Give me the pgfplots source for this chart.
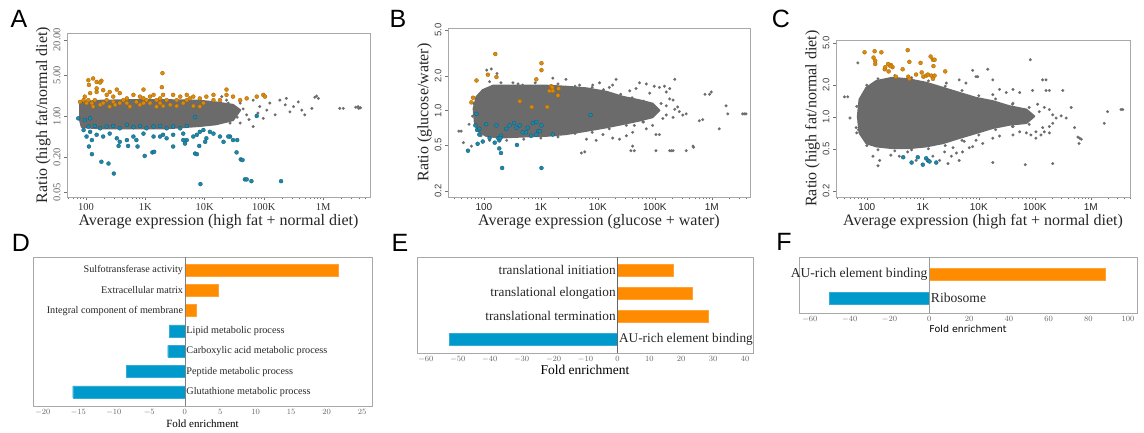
\documentclass[border=0pt]{standalone}
\usepackage{pgfplots}
\pgfplotsset{compat=1.18}
\usepackage{fontspec}
\setmainfont{Liberation Serif}
\newfontfamily\sansf{Liberation Sans}
\newfontfamily\dejavu{DejaVu Sans}
\definecolor{cloud}{HTML}{6B6B6B}
\definecolor{orpt}{HTML}{DB8A0B}
\definecolor{orpte}{HTML}{A86400}
\definecolor{blpt}{HTML}{1E87A8}
\definecolor{blpte}{HTML}{0F5C76}
\definecolor{obar}{HTML}{FF8C00}
\definecolor{bbar}{HTML}{0099CC}
\definecolor{frame}{HTML}{A8A8A8}
\pgfplotsset{
  ma/.style={scale only axis, anchor=south west, axis line style={frame},
    tick align=outside, tick pos=left, major tick length=3pt, tick style={black!55}},
  sc/.style={ma, xtick={2,3,4,5,6}, xticklabels={100,1K,10K,100K,1M},
    minor xtick={1.477,1.602,1.699,1.778,1.845,1.903,1.954,2.301,2.477,2.602,2.699,2.778,2.845,2.903,2.954,3.301,3.477,3.602,3.699,3.778,3.845,3.903,3.954,4.301,4.477,4.602,4.699,4.778,4.845,4.903,4.954,5.301,5.477,5.602,5.699,5.778,5.845,5.903,5.954,6.301,6.477,6.602,6.699},
    minor tick length=2pt,
    label style={font=\fontsize{16}{17}\selectfont, text=black!85},
    xlabel style={yshift=3pt}, ylabel style={yshift=-4pt}},
  gp/.style={only marks, mark=*, mark size=1.4pt, mark options={fill=cloud, draw=cloud, line width=0.2pt}},
  op/.style={only marks, mark=*, mark size=2pt, mark options={fill=orpt, draw=orpte, line width=0.3pt}},
  bp/.style={only marks, mark=*, mark size=2pt, mark options={fill=blpt, draw=blpte, line width=0.3pt}},
  cl/.style={fill=cloud, draw=cloud, line width=2pt, line join=round},
  br/.style={ma, ytick=\empty, major tick length=0pt, xbar, bar width=12pt, bar shift=0pt,
    clip=false, xticklabel style={text=black!60}},
}
\begin{document}
\begin{tikzpicture}[x=1pt,y=1pt]
\useasboundingbox (0,0) rectangle (1144,432);
\sansf
\node[font=\sansf\fontsize{25}{25}\selectfont] at (19,413) {A};
\node[font=\sansf\fontsize{25}{25}\selectfont] at (398,413) {B};
\node[font=\sansf\fontsize{25}{25}\selectfont] at (781,413) {C};
\node[font=\sansf\fontsize{25}{25}\selectfont] at (21,189) {D};
\node[font=\sansf\fontsize{25}{25}\selectfont] at (400,189) {E};
\node[font=\sansf\fontsize{25}{25}\selectfont] at (784,190) {F};

% ---------------- A ----------------
\begin{axis}[sc, at={(67pt,235pt)}, width=303pt, height=164pt,
  xmin=1.68, xmax=6.79, ymin=-1.38, ymax=1.414,
  ytick={-1.301,-0.699,0,0.699,1.301}, yticklabels={0.05,0.20,1.00,5.00,20.00},
  yticklabel style={rotate=90, anchor=south, font=\rmfamily\fontsize{10.5}{11}\selectfont, text=black!60},
  xticklabel style={font=\rmfamily\fontsize{10.5}{11}\selectfont, text=black!80},
  xlabel={\rmfamily Average expression (high fat + normal diet)},
  ylabel={\rmfamily Ratio (high fat/normal diet)}]
\addplot[cl] coordinates {(1.90,0.19)(1.93,0.24)(2.24,0.26)(2.80,0.27)(3.36,0.27)(3.92,0.26)(4.20,0.23)(4.48,0.19)(4.60,0.10)(4.48,-0.07)(4.20,-0.14)(3.92,-0.17)(3.36,-0.21)(2.80,-0.21)(2.24,-0.21)(1.93,-0.19)(1.90,-0.07)} -- cycle;
\addplot[gp] table {
x y
4.48 0.10
4.60 0.22
4.71 0.02
4.82 0.27
4.93 0.16
4.99 -0.04
5.05 0.10
5.10 0.22
5.19 0.02
5.27 0.27
5.36 0.19
5.38 0.30
5.44 0.07
5.50 0.16
5.58 0.24
5.64 0.10
5.69 0.02
5.81 0.13
5.86 0.32
5.89 0.34
5.92 0.30
6.28 0.13
6.34 0.13
6.55 0.15
6.59 0.16
6.63 0.14
6.60 0.13
4.15 0.16
4.26 0.02
4.37 0.27
4.20 -0.07
4.43 -0.12
4.60 -0.12
4.82 -0.18
4.48 0.33
4.29 0.33
4.65 0.12
4.75 -0.06
4.55 -0.02
4.40 0.22
4.90 0.05
};
\addplot[op] table {
x y
3.29 0.73
2.04 0.61
2.12 0.64
2.26 0.60
2.24 0.57
2.05 0.53
3.28 0.49
4.37 0.45
2.97 0.45
1.96 0.27
1.98 0.33
1.90 0.24
2.07 0.39
2.18 0.41
2.35 0.36
2.46 0.33
2.57 0.39
2.69 0.30
2.80 0.36
2.91 0.33
3.02 0.27
3.14 0.36
3.25 0.30
3.36 0.27
3.47 0.36
3.59 0.33
3.70 0.27
3.81 0.33
3.92 0.30
4.03 0.33
4.15 0.36
4.26 0.27
4.48 0.33
4.71 0.30
4.88 0.33
4.99 0.36
5.02 0.33
2.57 0.22
2.74 0.16
2.91 0.19
3.08 0.22
3.19 0.16
3.42 0.19
3.64 0.22
3.81 0.17
2.24 0.19
2.40 0.16
3.92 0.16
2.12 0.16
2.01 0.22
2.18 0.47
2.29 0.44
2.40 0.41
2.52 0.45
2.18 0.58
2.15 0.27
2.35 0.27
2.46 0.24
2.63 0.27
2.85 0.24
2.97 0.30
3.08 0.33
3.19 0.27
3.30 0.36
3.53 0.27
3.70 0.36
3.75 0.30
3.98 0.22
4.15 0.27
4.37 0.36
4.60 0.27
2.04 0.27
2.10 0.22
2.29 0.22
2.49 0.19
2.69 0.22
2.97 0.22
3.25 0.22
3.53 0.17
3.30 0.17
};
\addplot[bp] table {
x y
1.87 -0.04
1.98 -0.07
2.07 -0.04
2.04 -0.18
2.15 -0.17
2.24 -0.21
2.35 -0.18
2.46 -0.17
2.57 -0.21
2.69 -0.15
2.80 -0.19
2.91 -0.17
3.02 -0.21
3.14 -0.18
3.25 -0.17
3.36 -0.21
3.47 -0.18
3.59 -0.21
3.70 -0.17
3.84 -0.02
4.88 0.00
1.96 -0.24
2.07 -0.27
2.18 -0.32
2.29 -0.35
2.40 -0.30
2.52 -0.38
2.69 -0.41
2.80 -0.35
2.97 -0.30
3.14 -0.35
3.30 -0.32
3.36 -0.38
3.47 -0.32
3.64 -0.30
3.70 -0.41
3.81 -0.35
3.92 -0.27
4.03 -0.38
4.15 -0.30
4.26 -0.35
4.43 -0.35
4.48 -0.41
2.01 -0.35
2.10 -0.41
2.05 -0.52
2.10 -0.65
2.26 -0.78
2.38 -0.81
2.47 -0.98
2.55 -0.51
2.71 -0.51
2.87 -0.52
2.99 -0.68
3.12 -0.62
3.15 -0.61
3.84 -0.64
3.87 -0.65
3.91 -0.51
4.01 -0.44
4.09 -0.27
4.55 -0.41
4.54 -0.62
4.61 -0.74
4.64 -0.75
3.93 -1.16
4.68 -1.08
4.71 -1.08
4.79 -1.11
5.29 -1.11
3.47 -0.52
3.67 -0.47
3.64 -0.41
2.85 -0.41
3.25 -0.35
2.57 -0.44
3.87 -0.32
3.98 -0.24
4.32 -0.44
4.40 -0.35
};
\end{axis}

% ---------------- B ----------------
\begin{axis}[sc, at={(448pt,235pt)}, width=302pt, height=169pt,
  xmin=1.37, xmax=6.67, ymin=-0.752, ymax=0.716,
  ytick={-0.699,-0.301,0,0.301,0.699}, yticklabels={0.2,0.5,1.0,2.0,5.0},
  yticklabel style={rotate=90, anchor=south, font=\sansf\fontsize{9.5}{10}\selectfont, text=black!75},
  xticklabel style={font=\sansf\fontsize{10}{11}\selectfont, text=black!85},
  xlabel={\rmfamily Average expression (glucose + water)},
  ylabel={\rmfamily Ratio (glucose/water)}]
\addplot[cl] coordinates {(1.82,0.015)(1.87,0.118)(1.98,0.177)(2.16,0.215)(2.51,0.215)(3.09,0.215)(3.44,0.206)(3.80,0.192)(4.15,0.162)(4.44,0.118)(4.73,0.088)(4.96,0.059)(5.08,0)(4.96,-0.059)(4.73,-0.088)(4.44,-0.118)(4.15,-0.147)(3.80,-0.177)(3.44,-0.206)(3.09,-0.221)(2.68,-0.227)(2.27,-0.236)(2.04,-0.221)(1.89,-0.177)(1.84,-0.103)} -- cycle;
\addplot[gp] table {
x y
1.56 -0.18
1.60 -0.18
1.64 -0.28
1.74 -0.12
1.78 -0.31
2.05 0.35
2.13 0.36
2.23 0.32
2.10 0.25
2.51 0.24
2.68 0.22
3.21 0.28
3.44 0.27
3.68 0.22
3.91 0.22
4.03 0.24
4.20 0.20
4.26 0.22
4.32 0.27
4.56 0.17
4.67 0.19
4.73 0.24
4.85 0.23
4.91 0.15
4.99 0.21
5.08 0.20
5.17 0.21
5.20 0.16
5.26 0.10
5.32 0.09
5.35 0.01
5.43 -0.01
5.49 -0.04
5.55 -0.03
5.32 -0.06
5.14 -0.07
4.96 -0.13
4.85 -0.16
5.02 -0.21
5.08 -0.21
4.61 -0.19
4.50 -0.22
4.38 -0.25
4.26 -0.24
4.09 -0.21
3.97 -0.26
3.80 -0.25
3.71 -0.37
3.77 -0.36
4.58 -0.35
4.64 -0.35
4.61 -0.31
5.02 -0.35
5.26 -0.35
5.29 -0.35
5.32 -0.35
5.55 -0.35
5.35 0.27
5.26 0.19
5.20 0.04
5.40 0.03
5.84 -0.08
5.88 0.14
5.96 0.14
5.99 0.16
6.25 0.04
6.28 -0.03
6.54 -0.03
6.57 -0.03
6.60 -0.03
6.13 -0.16
5.67 -0.31
5.68 -0.32
5.78 -0.09
4.64 -0.13
4.79 -0.10
4.91 -0.03
5.02 0.01
5.11 0.06
5.20 -0.04
2.30 0.24
2.60 0.23
2.90 0.24
3.30 0.23
3.60 0.21
3.90 0.20
4.10 0.18
4.40 0.14
4.60 0.11
4.80 0.08
2.40 -0.26
2.70 -0.25
3.00 -0.24
3.30 -0.23
3.60 -0.20
3.90 -0.19
4.20 -0.16
4.50 -0.13
4.80 -0.10
2.10 -0.26
1.95 -0.22
1.80 -0.05
1.82 0.06
};
\addplot[op] table {
x y
2.20 0.49
1.87 0.26
2.07 0.31
2.22 0.29
1.81 0.11
1.78 0.07
2.92 0.27
3.01 0.41
3.01 0.35
3.18 0.21
3.15 0.17
3.21 0.17
3.31 0.19
3.30 0.13
2.63 0.08
2.84 0.03
3.11 0.03
3.20 0.20
};
\addplot[bp] table {
x y
1.87 -0.03
1.85 -0.13
1.88 -0.17
1.92 -0.21
1.89 -0.29
1.72 -0.35
2.04 -0.12
2.22 -0.13
1.98 -0.27
2.10 -0.24
2.27 -0.26
2.27 -0.33
2.30 -0.37
2.25 -0.24
2.30 -0.22
2.39 -0.16
2.45 -0.13
2.53 -0.11
2.57 -0.15
2.63 -0.13
2.58 -0.30
2.68 -0.19
2.77 -0.15
2.86 -0.11
2.92 -0.10
3.01 -0.13
2.95 -0.18
2.83 -0.22
2.92 -0.21
2.98 -0.18
2.32 -0.50
3.01 -0.50
3.21 -0.21
3.87 -0.04
1.92 -0.16
2.19 -0.28
2.29 -0.24
2.74 -0.19
};
\end{axis}

% ---------------- C ----------------
\begin{axis}[sc, at={(836pt,235pt)}, width=294pt, height=157pt,
  xmin=1.45, xmax=6.70, ymin=-0.755, ymax=0.726,
  ytick={-0.699,-0.301,0,0.301,0.699}, yticklabels={0.2,0.5,1.0,2.0,5.0},
  yticklabel style={rotate=90, anchor=south, font=\sansf\fontsize{9.5}{10}\selectfont, text=black!75},
  xticklabel style={font=\sansf\fontsize{10}{11}\selectfont, text=black!85},
  xlabel={\rmfamily Average expression (high fat + normal diet)},
  ylabel={\rmfamily Ratio (high fat/normal diet)}]
\addplot[cl] coordinates {(1.84,0.006)(1.87,0.165)(1.99,0.275)(2.17,0.339)(2.46,0.370)(2.76,0.354)(3.06,0.323)(3.36,0.275)(3.65,0.228)(3.95,0.180)(4.25,0.149)(4.55,0.101)(4.85,0.070)(4.99,0.006)(4.85,-0.057)(4.55,-0.073)(4.25,-0.104)(3.95,-0.152)(3.65,-0.199)(3.36,-0.247)(3.06,-0.278)(2.76,-0.294)(2.46,-0.294)(2.17,-0.278)(1.99,-0.247)(1.87,-0.152)} -- cycle;
\addplot[gp] table {
x y
1.60 0.19
1.66 0.19
1.70 -0.01
1.81 -0.10
1.82 -0.15
1.84 0.51
2.05 -0.20
2.11 -0.37
2.20 -0.46
2.23 -0.41
2.43 -0.36
2.58 -0.37
2.73 -0.33
2.88 -0.41
3.18 -0.37
3.30 -0.41
3.39 -0.33
3.51 -0.37
3.60 -0.34
3.71 -0.33
3.83 -0.29
3.89 -0.28
3.65 -0.41
3.45 -0.44
3.54 -0.29
3.74 -0.23
3.95 -0.22
4.07 -0.25
4.25 -0.20
4.37 -0.18
4.61 -0.17
4.85 -0.15
4.93 -0.17
4.25 -0.43
4.83 -0.45
5.32 -0.44
5.02 -0.20
5.11 -0.17
5.17 -0.14
5.26 -0.09
5.32 -0.06
5.38 -0.01
5.47 0.01
5.56 -0.01
5.65 0.09
5.71 -0.10
5.77 -0.19
5.80 -0.20
5.83 -0.21
5.79 -0.25
6.24 -0.06
6.30 0.05
6.54 0.07
6.57 0.07
4.92 0.54
4.16 0.45
3.89 0.44
3.95 0.38
3.98 0.38
3.65 0.35
3.77 0.32
4.25 0.35
4.37 0.26
4.49 0.23
4.61 0.26
4.73 0.23
4.96 0.25
5.14 0.35
5.20 0.35
5.20 0.25
5.26 0.25
5.50 0.25
5.05 0.12
5.17 0.09
5.26 0.07
5.32 0.02
5.08 0.05
4.61 0.13
4.25 0.21
5.14 -0.10
5.26 -0.15
5.02 -0.14
4.73 -0.14
4.61 -0.09
2.00 0.30
2.20 0.36
2.50 0.39
2.80 0.37
3.10 0.34
3.40 0.29
3.70 0.25
4.00 0.20
4.30 0.17
4.60 0.12
4.90 0.09
2.00 -0.27
2.20 -0.31
2.50 -0.32
2.80 -0.31
3.10 -0.30
3.40 -0.27
3.70 -0.22
4.00 -0.17
4.30 -0.12
4.60 -0.09
4.90 -0.07
1.85 -0.12
1.82 0.10
3.42 0.32
};
\addplot[op] table {
x y
1.96 0.61
2.14 0.62
2.26 0.61
2.12 0.56
2.15 0.53
2.15 0.50
2.32 0.45
2.39 0.43
2.43 0.49
2.46 0.47
2.42 0.48
2.38 0.50
2.33 0.47
2.52 0.38
2.64 0.45
2.73 0.63
2.76 0.52
2.74 0.38
2.76 0.36
2.88 0.40
2.96 0.51
2.98 0.42
3.01 0.38
3.06 0.39
3.09 0.40
3.14 0.57
3.18 0.54
3.21 0.54
3.19 0.48
3.15 0.39
3.21 0.39
3.18 0.36
3.40 0.43
};
\addplot[bp] table {
x y
2.65 -0.38
2.80 -0.43
2.91 -0.38
3.00 -0.45
3.06 -0.39
3.09 -0.41
3.12 -0.42
3.24 -0.43
};
\end{axis}

% ---------------- D ----------------
\begin{axis}[br, at={(33pt,26pt)}, width=339pt, height=149pt,
  xmin=-21.4, xmax=26.4, ymin=-0.69, ymax=6.64,
  xtick={-20,-15,...,25},
  xticklabel style={font=\rmfamily\fontsize{8}{9}\selectfont},
  xlabel={\rmfamily Fold enrichment}, xlabel style={font=\fontsize{11}{12}\selectfont, yshift=3pt}]
\addplot[fill=obar, draw=obar!80!white] coordinates {(21.7,6) (4.7,5) (1.6,4)};
\addplot[fill=bbar, draw=bbar!80!white] coordinates {(-2.2,3) (-2.4,2) (-8.2,1) (-15.8,0)};
\addplot[black!50, sharp plot, no marks] coordinates {(0,-0.69) (0,6.64)};
\begin{scope}[font=\rmfamily\fontsize{10.2}{11}\selectfont, text=black!85]
\node[anchor=east, inner sep=1.5pt] at (axis cs:0,6) {Sulfotransferase activity};
\node[anchor=east, inner sep=1.5pt] at (axis cs:0,5) {Extracellular matrix};
\node[anchor=east, inner sep=1.5pt] at (axis cs:0,4) {Integral component of membrane};
\node[anchor=west, inner sep=1.5pt] at (axis cs:0,3) {Lipid metabolic process};
\node[anchor=west, inner sep=1.5pt] at (axis cs:0,2) {Carboxylic acid metabolic process};
\node[anchor=west, inner sep=1.5pt] at (axis cs:0,1) {Peptide metabolic process};
\node[anchor=west, inner sep=1.5pt] at (axis cs:0,0) {Glutathione metabolic process};
\end{scope}
\end{axis}

% ---------------- E ----------------
\begin{axis}[br, at={(417pt,79pt)}, width=336pt, height=96pt,
  xmin=-62.8, xmax=42.5, ymin=-0.61, ymax=3.57,
  xtick={-60,-50,...,40},
  xticklabel style={font=\rmfamily\fontsize{8.5}{9}\selectfont},
  xlabel={\rmfamily Fold enrichment}, xlabel style={font=\fontsize{13.5}{14}\selectfont, yshift=4pt}]
\addplot[fill=obar, draw=obar!80!white] coordinates {(17.5,3) (23.5,2) (28.5,1)};
\addplot[fill=bbar, draw=bbar!80!white] coordinates {(-52.7,0)};
\addplot[black!60, sharp plot, no marks] coordinates {(0,-0.61) (0,3.57)};
\begin{scope}[font=\rmfamily\fontsize{13.3}{14}\selectfont, text=black!85]
\node[anchor=east, inner sep=1.5pt] at (axis cs:0,3) {translational initiation};
\node[anchor=east, inner sep=1.5pt] at (axis cs:0,2) {translational elongation};
\node[anchor=east, inner sep=1.5pt] at (axis cs:0,1) {translational termination};
\node[anchor=west, inner sep=1.5pt] at (axis cs:0,0) {AU-rich element binding};
\end{scope}
\end{axis}

% ---------------- F ----------------
\begin{axis}[br, at={(799pt,119pt)}, width=338pt, height=56pt,
  xmin=-65.5, xmax=104.5, ymin=-0.625, ymax=1.71,
  xtick={-60,-40,...,100},
  xticklabel style={font=\dejavu\fontsize{8}{9}\selectfont},
  xlabel={\dejavu Fold enrichment}, xlabel style={font=\fontsize{9.5}{10}\selectfont, yshift=4pt}]
\addplot[fill=obar, draw=obar!80!white] coordinates {(88.3,1)};
\addplot[fill=bbar, draw=bbar!80!white] coordinates {(-50.3,0)};
\addplot[black!40, sharp plot, no marks] coordinates {(0,-0.625) (0,1.71)};
\begin{scope}[font=\rmfamily\fontsize{13.6}{14}\selectfont, text=black!85]
\node[anchor=east, inner sep=1.5pt] at (axis cs:0,1) {AU-rich element binding};
\node[anchor=west, inner sep=1.5pt] at (axis cs:0,0) {Ribosome};
\end{scope}
\end{axis}
\end{tikzpicture}
\end{document}
